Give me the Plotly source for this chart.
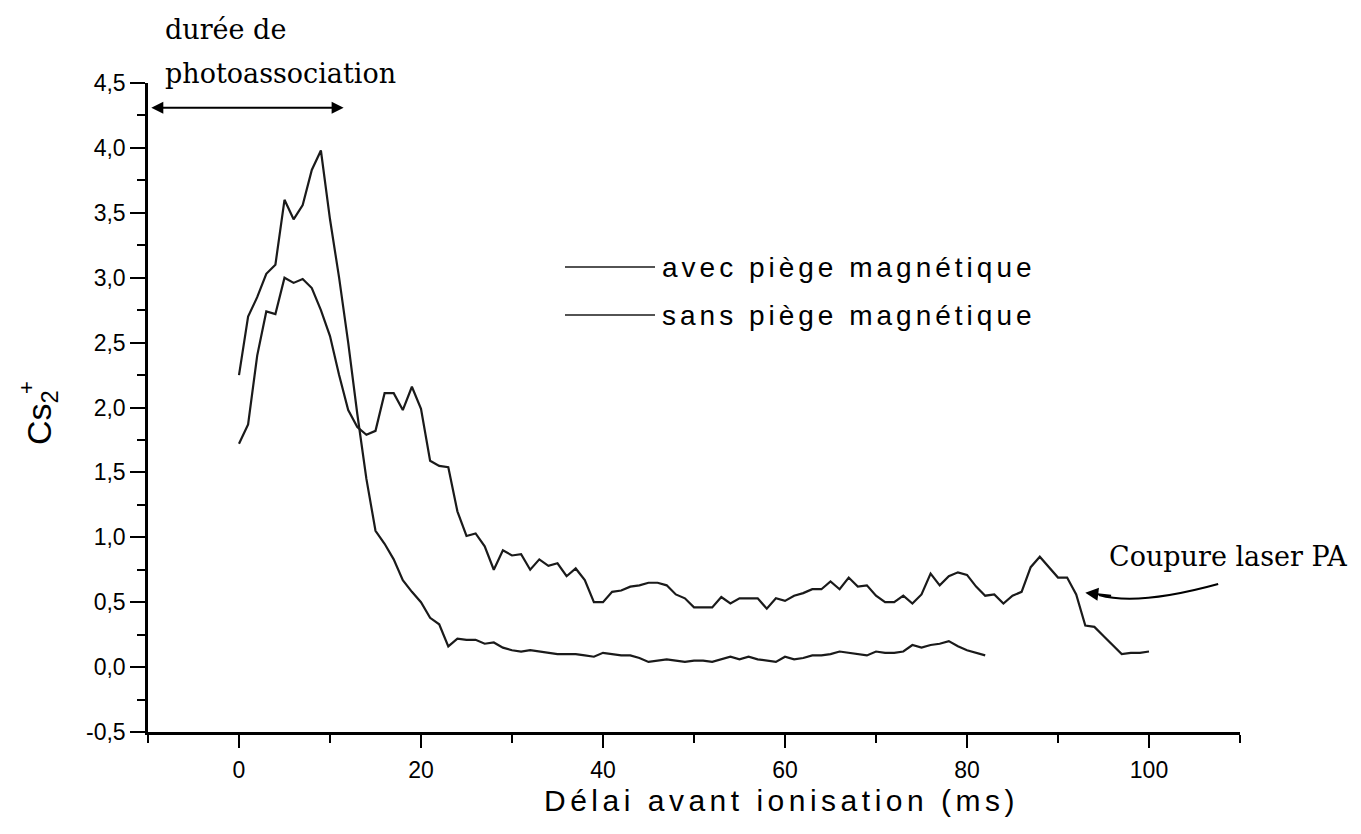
import plotly.graph_objects as go

# Délai avant ionisation (ms), pas de 1 ms
delai_sans = list(range(0, 83))
delai_avec = list(range(0, 101))

# Signal Cs2+ sans piège magnétique
cs2_sans = [2.25, 2.70, 2.85, 3.03, 3.10, 3.60, 3.45, 3.56, 3.83, 3.98,
            3.45, 3.00, 2.50, 1.95, 1.45, 1.05, 0.95, 0.83, 0.67, 0.58,
            0.50, 0.38, 0.33, 0.16, 0.22, 0.21, 0.21, 0.18, 0.19, 0.15,
            0.13, 0.12, 0.13, 0.12, 0.11, 0.10, 0.10, 0.10, 0.09, 0.08,
            0.11, 0.10, 0.09, 0.09, 0.07, 0.04, 0.05, 0.06, 0.05, 0.04,
            0.05, 0.05, 0.04, 0.06, 0.08, 0.06, 0.08, 0.06, 0.05, 0.04,
            0.08, 0.06, 0.07, 0.09, 0.09, 0.10, 0.12, 0.11, 0.10, 0.09,
            0.12, 0.11, 0.11, 0.12, 0.17, 0.15, 0.17, 0.18, 0.20, 0.16,
            0.13, 0.11, 0.09]

# Signal Cs2+ avec piège magnétique
cs2_avec = [1.72, 1.87, 2.40, 2.74, 2.72, 3.00, 2.96, 2.99, 2.92, 2.75,
            2.55, 2.25, 1.98, 1.85, 1.79, 1.82, 2.11, 2.11, 1.98, 2.16,
            1.99, 1.59, 1.55, 1.54, 1.20, 1.01, 1.03, 0.93, 0.75, 0.90,
            0.86, 0.87, 0.75, 0.83, 0.78, 0.80, 0.70, 0.76, 0.67, 0.50,
            0.50, 0.58, 0.59, 0.62, 0.63, 0.65, 0.65, 0.63, 0.56, 0.53,
            0.46, 0.46, 0.46, 0.54, 0.49, 0.53, 0.53, 0.53, 0.45, 0.53,
            0.51, 0.55, 0.57, 0.60, 0.60, 0.66, 0.60, 0.69, 0.62, 0.63,
            0.55, 0.50, 0.50, 0.55, 0.49, 0.56, 0.72, 0.63, 0.70, 0.73,
            0.71, 0.62, 0.55, 0.56, 0.49, 0.55, 0.58, 0.77, 0.85, 0.77,
            0.69, 0.69, 0.56, 0.32, 0.31, 0.24, 0.17, 0.10, 0.11, 0.11,
            0.12]

# Graduations
x_ticks = [0, 20, 40, 60, 80, 100]
y_ticks = [-0.5, 0.0, 0.5, 1.0, 1.5, 2.0, 2.5, 3.0, 3.5, 4.0, 4.5]
y_ticklabels = ["-0,5", "0,0", "0,5", "1,0", "1,5", "2,0",
                "2,5", "3,0", "3,5", "4,0", "4,5"]

SANS = "Liberation Sans, Arial, sans-serif"
SERIF = "DejaVu Serif, serif"
INK = "#1a1a1a"


def spaced(text, px):
    return f'<span style="letter-spacing:{px}px">{text}</span>'


fig = go.Figure()

fig.add_trace(go.Scatter(x=delai_avec, y=cs2_avec, mode="lines",
                         line=dict(color=INK, width=2.2), name="avec piège magnétique"))
fig.add_trace(go.Scatter(x=delai_sans, y=cs2_sans, mode="lines",
                         line=dict(color=INK, width=2.2), name="sans piège magnétique"))

L, R, T, B = 148, 1240, 83, 732
W, H = 1361, 834


def px_x(p):
    return (p - L) / (R - L)


def px_y(p):
    return (B - p) / (B - T)


fig.update_layout(
    width=W, height=H,
    margin=dict(l=L, r=W - R, t=T, b=H - B),
    paper_bgcolor="white", plot_bgcolor="white",
    showlegend=False,
    font=dict(family=SANS, color="black"),
    xaxis=dict(
        range=[-10, 110], showgrid=False, zeroline=False,
        showline=True, linecolor="black", linewidth=2.5,
        ticks="outside", ticklen=13, tickwidth=2, tickcolor="black",
        tickvals=x_ticks, ticktext=[str(v) for v in x_ticks],
        tickfont=dict(size=23, family=SANS), ticklabelstandoff=3,
        minor=dict(dtick=10, tick0=-10, ticks="outside", ticklen=8,
                   tickwidth=2, tickcolor="black"),
    ),
    yaxis=dict(
        range=[-0.5, 4.5], showgrid=False, zeroline=False,
        showline=True, linecolor="black", linewidth=2.5,
        ticks="outside", ticklen=15, tickwidth=2, tickcolor="black",
        tickvals=y_ticks, ticktext=y_ticklabels,
        tickfont=dict(size=23, family=SANS),
        minor=dict(dtick=0.25, tick0=0, ticks="outside", ticklen=8,
                   tickwidth=2, tickcolor="black"),
    ),
)

ann = []
# Titres des axes
ann.append(dict(xref="paper", yref="paper", x=px_x(781), y=px_y(800),
                text=spaced("Délai avant ionisation (ms)", 4.5), showarrow=False,
                font=dict(size=30, family=SANS), xanchor="center", yanchor="middle"))
ann.append(dict(xref="paper", yref="paper", x=px_x(42), y=px_y(418),
                text="Cs<sub>2</sub>", showarrow=False, textangle=-90,
                font=dict(size=34, family=SANS), xanchor="center", yanchor="middle"))
ann.append(dict(xref="paper", yref="paper", x=px_x(26), y=px_y(388),
                text="+", showarrow=False, textangle=-90,
                font=dict(size=22, family=SANS), xanchor="center", yanchor="middle"))

# Durée de photoassociation
ann.append(dict(xref="paper", yref="paper", x=px_x(163), y=px_y(29),
                text="durée de", showarrow=False,
                font=dict(size=27, family=SERIF), xanchor="left", yanchor="middle"))
ann.append(dict(xref="paper", yref="paper", x=px_x(163), y=px_y(73),
                text="photoassociation", showarrow=False,
                font=dict(size=27, family=SERIF), xanchor="left", yanchor="middle"))
ann.append(dict(x=11.5, y=4.31, ax=-9.8, ay=4.31, xref="x", yref="y",
                axref="x", ayref="y", text="", showarrow=True,
                arrowhead=2, arrowside="end+start", arrowsize=1.2,
                arrowwidth=2, arrowcolor="black"))

# Coupure du laser PA
ann.append(dict(xref="paper", yref="paper", x=px_x(1107), y=px_y(556),
                text="Coupure laser PA", showarrow=False,
                font=dict(size=27, family=SERIF), xanchor="left", yanchor="middle"))
ann.append(dict(x=93.0, y=0.573, ax=96.0, ay=0.548, xref="x", yref="y",
                axref="x", ayref="y", text="", showarrow=True,
                arrowhead=2, arrowsize=1.3, arrowwidth=2, arrowcolor="black"))

# Légende
for label, ypx in [("avec piège magnétique", 267), ("sans piège magnétique", 315)]:
    ann.append(dict(xref="paper", yref="paper", x=px_x(660), y=px_y(ypx),
                    text=spaced(label, 4), showarrow=False,
                    font=dict(size=28, family=SANS), xanchor="left", yanchor="middle"))

fig.update_layout(annotations=ann)

shapes = []
for ypx in (267, 315):
    shapes.append(dict(type="line", xref="paper", yref="paper",
                       x0=px_x(565), x1=px_x(655), y0=px_y(ypx), y1=px_y(ypx),
                       line=dict(color=INK, width=1.5)))
# flèche courbe vers la coupure
shapes.append(dict(type="path", xref="x", yref="y",
                   path="M 107.6,0.64 Q 98.8,0.47 94.5,0.555",
                   line=dict(color="black", width=2.2)))
fig.update_layout(shapes=shapes)

fig.write_html("out.html")
